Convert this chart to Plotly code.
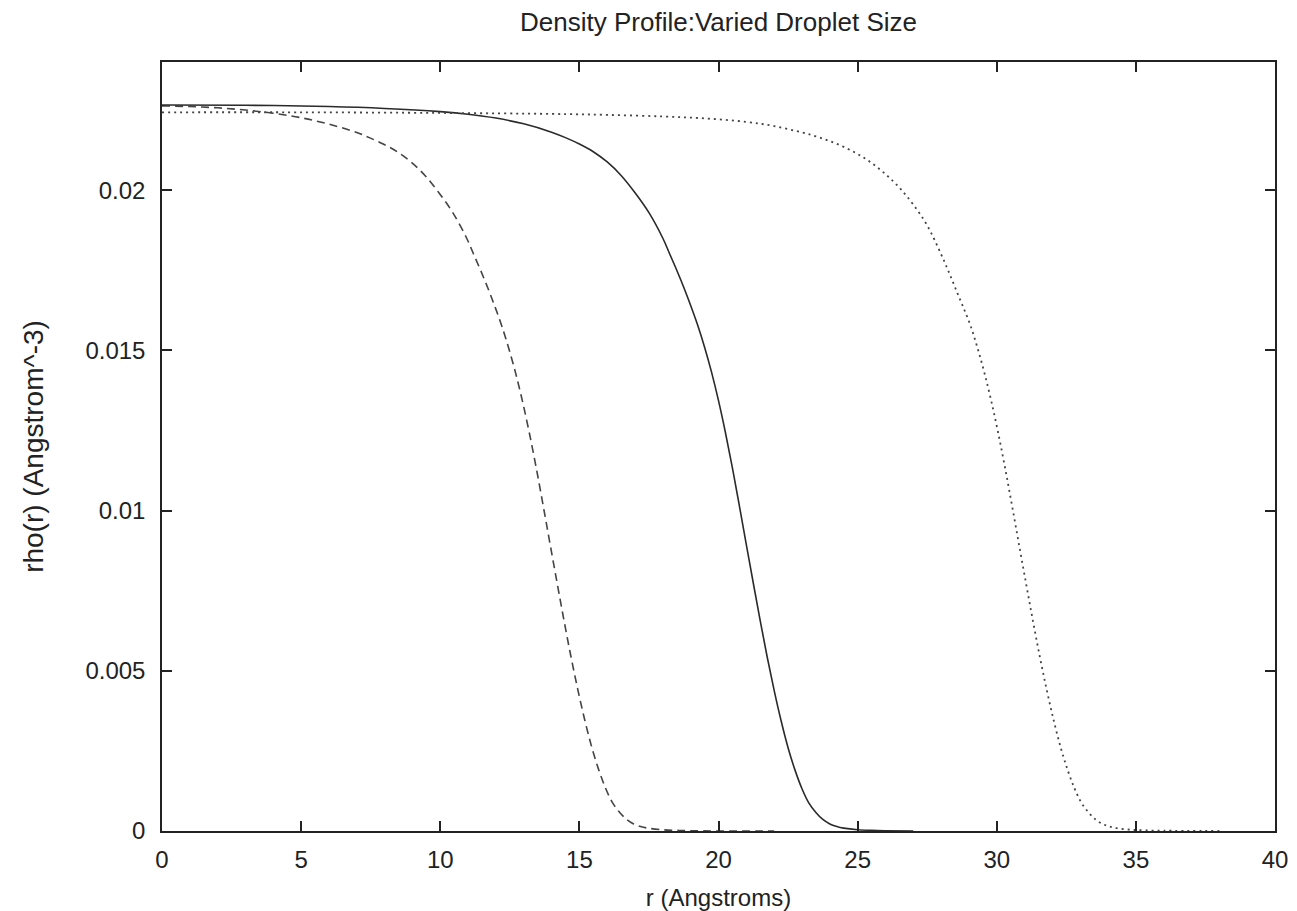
import plotly.graph_objects as go

# ---- data ----
r_dashed = [0, 1, 2, 3, 4, 5, 6, 7, 7.45, 7.95, 8.45, 8.95, 9.45, 9.95, 10.45, 10.95, 11.2, 11.45,
            11.7, 11.95, 12.2, 12.45, 12.7, 12.95, 13.2, 13.45, 13.7, 13.95, 14.2, 14.45, 14.7,
            14.95, 15.2, 15.45, 15.7, 15.95, 16.2, 16.45, 16.7, 16.95, 17.2, 17.45, 17.95, 18.45,
            19, 20, 22]
rho_dashed = [0.02263, 0.02261, 0.02257, 0.02250, 0.02240, 0.02226, 0.02206, 0.02180, 0.02164,
              0.02144, 0.02120, 0.02088, 0.02046, 0.01992, 0.0193, 0.0185, 0.0180, 0.0175,
              0.01697, 0.0164, 0.01579, 0.0151, 0.01432, 0.01343, 0.01243, 0.01133, 0.01015,
              0.00894, 0.00774, 0.00656, 0.00543, 0.00439, 0.00344, 0.0026, 0.0019, 0.00132,
              0.00087, 0.00058, 0.00036, 0.00022, 0.00014, 0.00009, 0.00004, 0.00002, 0.00001,
              0.0, 0.0]

r_solid = [0, 3, 6, 8, 10, 11, 12, 13, 14, 14.5, 15, 15.5, 16, 16.5, 17, 17.5, 18, 18.25, 18.5,
           18.75, 19, 19.25, 19.5, 19.75, 20, 20.25, 20.5, 20.75, 21, 21.25, 21.5, 21.75, 22,
           22.25, 22.5, 22.75, 23, 23.25, 23.5, 23.75, 24, 24.25, 24.5, 25, 25.5, 26, 27]
rho_solid = [0.02266, 0.02265, 0.02261, 0.02255, 0.02245, 0.02237, 0.02225, 0.02207, 0.02181,
             0.02164, 0.02144, 0.02120, 0.02088, 0.02046, 0.01992, 0.0193, 0.0185, 0.0180,
             0.0175, 0.01697, 0.0164, 0.01579, 0.0151, 0.01432, 0.01343, 0.01243, 0.01133,
             0.01015, 0.00894, 0.00774, 0.00656, 0.00543, 0.00439, 0.00344, 0.0026, 0.0019,
             0.00132, 0.00087, 0.00058, 0.00036, 0.00022, 0.00014, 0.00009, 0.00004, 0.00002,
             0.00001, 0.0]

r_dotted = [0, 5, 10, 14, 16, 18, 19.5, 21, 22, 23, 23.5, 24, 24.5, 25, 25.5, 26, 26.5, 27, 27.5,
            28, 28.25, 28.5, 28.77, 29.05, 29.3, 29.55, 29.8, 30.05, 30.3, 30.55, 30.8, 31.05,
            31.3, 31.55, 31.8, 32.05, 32.3, 32.55, 32.8, 33.05, 33.3, 33.55, 33.8, 34.05, 34.3,
            34.8, 35.3, 36, 38]
rho_dotted = [0.02243, 0.02243, 0.02241, 0.02238, 0.02235, 0.02230, 0.02224, 0.02213, 0.02200,
              0.02180, 0.02168, 0.02153, 0.02135, 0.02113, 0.02085, 0.02050, 0.02008, 0.01955,
              0.0189, 0.0180, 0.0175, 0.01697, 0.0164, 0.01579, 0.0151, 0.01432, 0.01343,
              0.01243, 0.01133, 0.01015, 0.00894, 0.00774, 0.00656, 0.00543, 0.00439, 0.00344,
              0.0026, 0.0019, 0.00132, 0.00087, 0.00058, 0.00036, 0.00022, 0.00014, 0.00009,
              0.00004, 0.00002, 0.00001, 0.0]

x_ticks = [0, 5, 10, 15, 20, 25, 30, 35, 40]
y_ticks = [0, 0.005, 0.01, 0.015, 0.02]
y_tick_text = ["0", "0.005", "0.01", "0.015", "0.02"]

FONT = "Liberation Sans, Arial, sans-serif"
TXT = "#222222"

fig = go.Figure()
fig.add_trace(go.Scatter(x=r_dashed, y=rho_dashed, mode="lines",
                         line=dict(color="#444444", width=1.6, dash="8px,5px", shape="spline", smoothing=1.0)))
fig.add_trace(go.Scatter(x=r_solid, y=rho_solid, mode="lines",
                         line=dict(color="#2a2a2a", width=1.6, shape="spline", smoothing=1.0)))
fig.add_trace(go.Scatter(x=r_dotted, y=rho_dotted, mode="lines",
                         line=dict(color="#444444", width=1.8, dash="2px,4px", shape="spline", smoothing=1.0)))

axis_common = dict(
    showline=True, linecolor=TXT, linewidth=1.5, mirror="ticks",
    ticks="inside", ticklen=10, tickwidth=1.5, tickcolor=TXT,
    showgrid=False, zeroline=False,
    tickfont=dict(family=FONT, size=24, color=TXT),
)

fig.update_xaxes(range=[0, 40], tickvals=x_ticks, ticktext=[str(v) for v in x_ticks],
                 title=dict(text="r (Angstroms)", font=dict(family=FONT, size=24, color=TXT), standoff=19),
                 ticklabelstandoff=6, **axis_common)
fig.update_yaxes(range=[0, 0.024], tickvals=y_ticks, ticktext=y_tick_text,
                 title=dict(text="rho(r) (Angstrom^-3)", font=dict(family=FONT, size=28, color=TXT), standoff=34),
                 ticklabelstandoff=10, **axis_common)

fig.update_layout(
    width=1297, height=911,
    margin=dict(l=162, r=22, t=62, b=80, autoexpand=False),
    paper_bgcolor="white", plot_bgcolor="white",
    showlegend=False,
    title=dict(text="Density Profile:Varied Droplet Size", x=0.5, xref="paper", xanchor="center",
               y=1 - 22 / 911, yref="container", yanchor="middle",
               font=dict(family=FONT, size=26, color=TXT)),
)

fig.write_html("out.html")
